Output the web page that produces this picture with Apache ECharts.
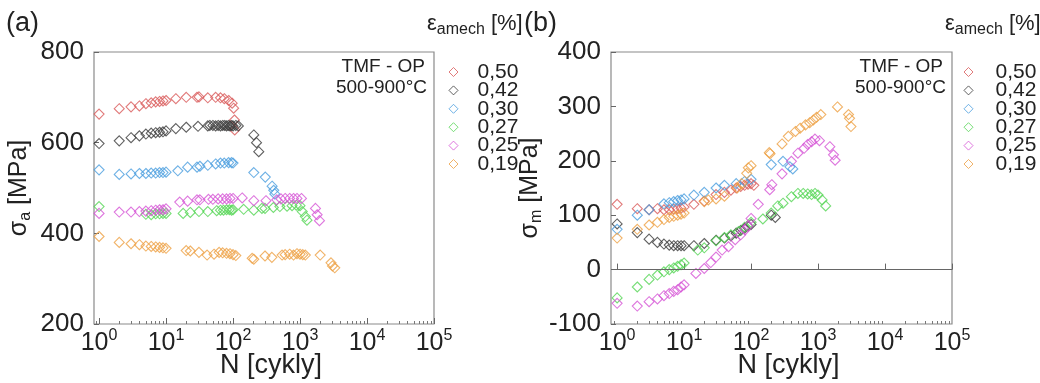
<!DOCTYPE html>
<html>
<head>
<meta charset="utf-8">
<script src="https://cdn.jsdelivr.net/npm/echarts@6/dist/echarts.min.js"></script>
<style>
  html, body { margin: 0; padding: 0; background: #fff; }
  #chart { width: 1040px; height: 383px; }
</style>
</head>
<body>
<div id="chart"></div>
<script>
// Mechanical strain amplitude levels [%] and their marker colours
const strainLevels = ['0,50', '0,42', '0,30', '0,27', '0,25', '0,19'];
const levelColors = ['#d95a5a', '#3a3a3a', '#4a9ede', '#55d655', '#d655d6', '#eea044'];

// (a) stress amplitude sigma_a [MPa] vs. number of cycles N
const nAmp050 = [1, 2, 3, 4, 5, 6, 7, 8, 9, 10, 14, 20, 29, 31, 42, 55, 65, 74, 86, 97, 102, 105, 106];
const sAmp050 = [663, 675, 679, 681, 686, 688, 690, 691, 692, 693, 697, 700, 700, 701, 699, 700, 699, 697, 693, 687, 676, 650, 628];
const nAmp042 = [1, 2, 3, 4, 5, 6, 7, 8, 9, 10, 14, 20, 30, 42, 45, 50, 55, 60, 65, 70, 75, 80, 85, 90, 95, 100, 110, 120, 204, 224, 242];
const sAmp042 = [598, 604, 611, 615, 619, 621, 622, 623, 624, 626, 631, 634, 636, 637, 638, 638, 637, 638, 637, 638, 638, 637, 638, 637, 638, 637, 638, 637, 617, 600, 580];
const nAmp030 = [1, 2, 3, 4, 5, 6, 7, 8, 9, 10, 15, 21, 29, 32, 42, 55, 65, 74, 86, 95, 100, 204, 303, 383, 405, 420];
const sAmp030 = [540, 530, 531, 532, 532, 533, 533, 534, 534, 535, 538, 546, 546, 548, 550, 553, 555, 555, 556, 556, 555, 534, 524, 504, 495, 487];
const nAmp027 = [1, 5, 6, 7, 8, 9, 10, 18, 23, 31, 42, 57, 65, 72, 80, 88, 95, 100, 144, 204, 270, 300, 400, 500, 640, 760, 880, 1000, 1080, 1200, 1270];
const sAmp027 = [459, 442, 441, 443, 443, 444, 444, 444, 446, 448, 448, 450, 451, 451, 452, 452, 451, 452, 453, 451, 455, 455, 457, 459, 460, 461, 462, 461, 448, 437, 429];
const nAmp025 = [1, 2, 3, 4, 5, 6, 7, 8, 9, 10, 16, 21, 29, 32, 43, 50, 60, 70, 80, 90, 100, 137, 204, 310, 450, 520, 600, 700, 800, 900, 1050, 1700, 1800, 1950];
const sAmp025 = [444, 447, 447, 448, 449, 450, 451, 452, 452, 454, 469, 471, 474, 474, 475, 475, 476, 476, 476, 477, 477, 478, 472, 472, 474, 476, 477, 477, 477, 477, 477, 455, 441, 428];
const nAmp019 = [1, 2, 3, 4, 5, 6, 7, 8, 9, 10, 20, 23, 31, 41, 52, 62, 70, 80, 90, 100, 110, 193, 204, 300, 380, 540, 600, 700, 800, 900, 1000, 1100, 1200, 2000, 2900, 3050, 3300];
const sAmp019 = [393, 380, 377, 375, 372, 371, 370, 369, 368, 367, 362, 361, 358, 352, 354, 358, 357, 356, 355, 353, 351, 345, 343, 350, 347, 352, 353, 354, 352, 355, 354, 353, 352, 352, 335, 328, 324];

// (b) mean stress sigma_m [MPa] vs. number of cycles N
const nMean050 = [1, 2, 3, 4, 5, 6, 7, 8, 9, 10, 14, 20, 30, 40, 50, 60, 70, 80, 90, 100, 110];
const sMean050 = [120, 112, 110, 112, 110, 110, 111, 112, 113, 115, 120, 126, 138, 142, 146, 150, 153, 155, 157, 158, 155];
const nMean042 = [1, 2, 3, 4, 5, 6, 7, 8, 9, 10, 14, 20, 30, 40, 50, 60, 70, 80, 90, 100, 200, 230];
const sMean042 = [84, 68, 56, 50, 47, 45, 44, 44, 44, 44, 44, 48, 54, 58, 62, 67, 72, 76, 80, 83, 100, 96];
const nMean030 = [1, 2, 3, 5, 6, 7, 8, 9, 10, 14, 20, 30, 40, 60, 80, 100, 200, 300, 380, 420];
const sMean030 = [74, 100, 110, 121, 123, 125, 127, 128, 130, 137, 142, 150, 155, 158, 162, 166, 193, 199, 189, 185];
const nMean027 = [1, 2, 3, 4, 5, 6, 7, 8, 9, 10, 16, 20, 30, 40, 50, 65, 80, 100, 150, 200, 250, 300, 400, 500, 600, 700, 800, 900, 1000, 1150, 1300];
const sMean027 = [-52, -32, -18, -10, -4, 0, 3, 6, 9, 12, 36, 40, 53, 59, 64, 70, 78, 87, 93, 104, 117, 122, 134, 140, 140, 139, 138, 140, 137, 128, 117];
const nMean025 = [1, 2, 3, 4, 5, 6, 7, 8, 9, 10, 15, 20, 25, 30, 37, 46, 58, 70, 81, 90, 100, 128, 190, 204, 290, 400, 500, 620, 700, 800, 900, 1050, 1500, 1700, 1800];
const sMean025 = [-62, -67, -59, -54, -48, -44, -40, -37, -32, -28, -7, 2, 13, 23, 36, 42, 55, 64, 73, 80, 94, 120, 147, 156, 176, 199, 214, 223, 230, 235, 240, 237, 226, 211, 201];
const nMean019 = [1, 2, 3, 4, 5, 6, 7, 8, 9, 10, 20, 23, 30, 40, 62, 72, 86, 91, 100, 187, 192, 290, 360, 460, 540, 650, 750, 850, 950, 1100, 1950, 2850, 2950, 3100];
const sMean019 = [58, 74, 82, 87, 92, 96, 98, 100, 102, 104, 125, 128, 130, 135, 150, 158, 177, 187, 191, 215, 213, 231, 245, 254, 260, 266, 270, 275, 280, 285, 299, 285, 278, 263];

// Log-axis tick positions
const decadeTicks = [1, 10, 100, 1000, 10000, 100000];
const minorTicks = [];
[0.1, 1, 10, 100, 1000, 10000].forEach(d => {
  for (let k = 2; k <= 9; k++) minorTicks.push(Math.round(k * d * 10) / 10);
});

const FONT = 'Liberation Sans';
const TEXT = '#222';
const FRAME = '#8a8a8a';

const ampPairs = [[nAmp050, sAmp050], [nAmp042, sAmp042], [nAmp030, sAmp030],
                  [nAmp027, sAmp027], [nAmp025, sAmp025], [nAmp019, sAmp019]];
const meanPairs = [[nMean050, sMean050], [nMean042, sMean042], [nMean030, sMean030],
                   [nMean027, sMean027], [nMean025, sMean025], [nMean019, sMean019]];

function logAxes(gridIndex, min) {
  const base = {
    type: 'log', logBase: 10, gridIndex: gridIndex, min: min, max: 100000,
    position: 'bottom', axisLine: { show: false }, splitLine: { show: false }
  };
  return [
    Object.assign({}, base, {
      axisTick: { show: true, inside: true, length: 6, customValues: decadeTicks,
                  lineStyle: { color: '#666', width: 1 } },
      axisLabel: {
        customValues: decadeTicks, color: TEXT, fontFamily: FONT, fontSize: 25,
        lineHeight: 30, margin: 4,
        formatter: v => '10{e|' + Math.round(Math.log10(v)) + '}',
        rich: { e: { fontSize: 16, lineHeight: 16, verticalAlign: 'top', fontFamily: FONT, color: TEXT } }
      },
      name: 'N [cykly]', nameLocation: 'middle', nameGap: 28, nameMoveOverlap: false,
      nameTextStyle: { color: TEXT, fontFamily: FONT, fontSize: 27, padding: [0, 0, 0, 14] }
    }),
    Object.assign({}, base, {
      axisTick: { show: true, inside: true, length: 3, customValues: minorTicks,
                  lineStyle: { color: '#777', width: 1 } },
      axisLabel: { show: false }
    })
  ];
}

function valueAxis(gridIndex, min, max, step, sub, gap) {
  return {
    type: 'value', gridIndex: gridIndex, min: min, max: max, interval: step,
    axisLine: { show: false }, splitLine: { show: false },
    axisTick: { show: true, inside: true, length: 5, lineStyle: { color: '#666' } },
    axisLabel: { color: TEXT, fontFamily: FONT, fontSize: 26, margin: 10 },
    name: 'σ{s|' + sub + '} [MPa]', nameLocation: 'middle', nameRotate: 90, nameGap: gap,
    nameTextStyle: {
      color: TEXT, fontFamily: FONT, fontSize: 25, lineHeight: 30,
      rich: { s: { fontSize: 16, lineHeight: 14, verticalAlign: 'bottom', fontFamily: FONT, color: TEXT } }
    }
  };
}

function scatterSeries(pairs, xAxisIndex, yAxisIndex) {
  return pairs.map((p, i) => ({
    name: strainLevels[i], type: 'scatter', xAxisIndex: xAxisIndex, yAxisIndex: yAxisIndex,
    symbol: 'diamond', symbolSize: 10, silent: true,
    itemStyle: { color: 'rgba(255,255,255,0)', borderColor: levelColors[i], borderWidth: 1.1 },
    emphasis: { disabled: true },
    data: p[0].map((n, j) => [n, p[1][j]])
  }));
}

function legendAt(left, textShift) {
  return {
    orient: 'vertical', left: left, top: 61.5, padding: 0,
    itemWidth: 9, itemHeight: 9, itemGap: -2.6,
    selectedMode: false, data: strainLevels,
    itemStyle: { borderWidth: 1 },
    textStyle: { color: TEXT, fontFamily: FONT, fontSize: 21, padding: [0, 0, 0, textShift] }
  };
}

function labelText(x, y, text, size, align) {
  return {
    type: 'text', x: x, y: y, silent: true,
    style: { text: text, fill: TEXT, font: size + 'px "' + FONT + '"', align: align || 'left', verticalAlign: 'middle' }
  };
}

function strainTitle(x) {
  return {
    type: 'text', x: x, y: 24, silent: true,
    style: {
      text: 'ε{s|amech} [%]', fill: TEXT, fontFamily: FONT, fontSize: 22, lineHeight: 28,
      align: 'left', verticalAlign: 'middle',
      rich: { s: { fontSize: 16, lineHeight: 14, verticalAlign: 'bottom', fontFamily: FONT, fill: TEXT } }
    }
  };
}

const seriesA = scatterSeries(ampPairs, 0, 0);
const seriesB = scatterSeries(meanPairs, 2, 1);
// zero reference line of the mean-stress plot
seriesB[0].markLine = {
  silent: true, symbol: ['none', 'none'], label: { show: false },
  lineStyle: { color: '#666', width: 1.2, type: 'solid' },
  emphasis: { disabled: true },
  data: [{ yAxis: 0 }]
};

const chart = echarts.init(document.getElementById('chart'), null, { renderer: 'canvas' });
chart.setOption({
  animation: false,
  backgroundColor: '#fff',
  grid: [
    { left: 94, top: 52, width: 340, height: 272, outerBoundsMode: 'none', containLabel: false,
      show: true, borderColor: FRAME, borderWidth: 1.2, backgroundColor: 'transparent' },
    { left: 611, top: 52, width: 341, height: 272, outerBoundsMode: 'none', containLabel: false,
      show: true, borderColor: FRAME, borderWidth: 1.2, backgroundColor: 'transparent' }
  ],
  xAxis: logAxes(0, 0.84).concat(logAxes(1, 0.81)),
  yAxis: [valueAxis(0, 200, 800, 200, 'a', 60), valueAxis(1, -100, 400, 100, 'm', 54)],
  legend: [legendAt(448.5, 14.5), legendAt(963.5, 17.5)],
  graphic: [
    labelText(6, 24, '(a)', 27),
    labelText(524, 24, '(b)', 27),
    labelText(425, 67, 'TMF - OP', 19, 'right'),
    labelText(427, 88, '500-900°C', 19, 'right'),
    labelText(943, 67, 'TMF - OP', 19, 'right'),
    labelText(946, 88, '500-900°C', 19, 'right'),
    strainTitle(427),
    strainTitle(945)
  ],
  series: seriesA.concat(seriesB)
});
</script>
</body>
</html>
